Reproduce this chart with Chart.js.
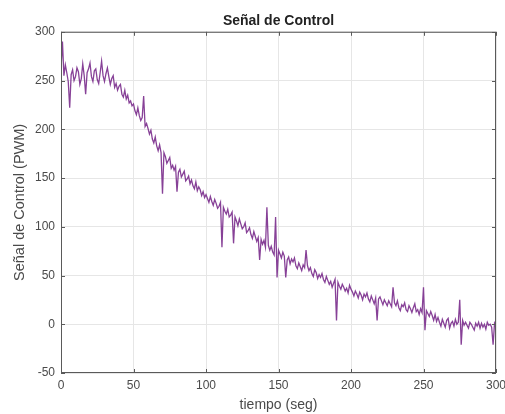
<!DOCTYPE html>
<html>
<head>
<meta charset="utf-8">
<script src="https://cdn.jsdelivr.net/npm/chart.js@4.4.1/dist/chart.umd.min.js"></script>
<style>
  html, body { margin: 0; padding: 0; background: #fff; }
</style>
</head>
<body>
<canvas id="chart-senal" width="505" height="414"></canvas>
<script>
// muestreo de la señal, un valor por segundo (0 .. 300 seg)
const paso = 1;
const senal = [
  262, 290, 255, 266, 258, 249, 222, 256, 261, 250,
  254, 263, 259, 246, 252, 267, 255, 236, 258, 262,
  268, 254, 249, 260, 262, 251, 247, 258, 270, 255,
  249, 257, 263, 254, 246, 252, 255, 243, 247, 240,
  244, 246, 236, 233, 240, 231, 235, 227, 229, 224,
  226, 219, 215, 222, 214, 209, 212, 234, 203, 206,
  201, 195, 199, 190, 186, 192, 183, 178, 184, 176,
  134, 176, 172, 165, 168, 171, 160, 163, 158, 162,
  136, 156, 159, 151, 154, 157, 147, 149, 152, 144,
  148, 142, 139, 146, 137, 141, 138, 132, 136, 130,
  133, 129, 125, 131, 126, 122, 128, 124, 119, 121,
  125, 79, 120, 116, 113, 118, 110, 112, 115, 83,
  110, 106, 101, 108, 103, 98, 100, 104, 94, 96,
  99, 92, 88, 95, 90, 85, 89, 66, 87, 82,
  86, 79, 120, 81, 76, 80, 74, 71, 110, 48,
  76, 72, 68, 74, 70, 48, 66, 69, 62, 67,
  64, 68, 60, 57, 63, 59, 55, 61, 58, 76,
  60, 55, 58, 52, 49, 56, 53, 47, 51, 48,
  52, 46, 43, 49, 45, 41, 44, 38, 42, 46,
  4, 43, 39, 36, 41, 38, 34, 37, 32, 40,
  36, 33, 29, 34, 31, 27, 33, 30, 25, 31,
  28, 32, 26, 23, 29, 25, 21, 27, 4, 26,
  28, 24, 20, 25, 22, 19, 24, 21, 18, 38,
  22, 19, 24, 17, 14, 20, 18, 22, 15, 13,
  19, 16, 12, 17, 21, 13, 15, 10, 16, 12,
  38, -6, 14, 11, 8, 13, 9, 4, 10, 3,
  7, 2, -2, 5, 1, -3, 4, 6, -4, 1,
  3, -2, 5, 0, 2, 25, -21, 4, -1, 2,
  -1, -4, 2, 0, -3, -6, 1, -2, 2, -4,
  1, -3, 0, -5, 2, -1, 0, -3, -21, 1,
  -2
];
const xTicks = [0, 50, 100, 150, 200, 250, 300];
const yTicks = [-50, 0, 50, 100, 150, 200, 250, 300];

const puntos = senal.map((v, i) => ({ x: i * paso, y: v }));

const fuente = "'Liberation Sans', Arial, Helvetica, sans-serif";
const gris = "#4a4a4a";

// caja completa y marcas hacia adentro, estilo matlab
const marcoPlugin = {
  id: "marco",
  afterLayout(chart) {
    // el titulo va centrado sobre el area del grafico, no sobre el lienzo
    if (chart.titleBlock) {
      chart.titleBlock.left = chart.chartArea.left;
      chart.titleBlock.right = chart.chartArea.right;
    }
  },
  afterDatasetsDraw(chart) {
    const { ctx, chartArea: a, scales } = chart;
    ctx.save();
    ctx.strokeStyle = "#5a5a5a";
    ctx.lineWidth = 1;
    ctx.strokeRect(a.left + 0.5, a.top + 0.5, a.right - a.left - 1, a.bottom - a.top - 1);
    ctx.beginPath();
    xTicks.forEach((v) => {
      const px = Math.round(scales.x.getPixelForValue(v)) + 0.5;
      ctx.moveTo(px, a.bottom); ctx.lineTo(px, a.bottom - 4);
      ctx.moveTo(px, a.top); ctx.lineTo(px, a.top + 4);
    });
    yTicks.forEach((v) => {
      const py = Math.round(scales.y.getPixelForValue(v)) + 0.5;
      ctx.moveTo(a.left, py); ctx.lineTo(a.left + 4, py);
      ctx.moveTo(a.right, py); ctx.lineTo(a.right - 4, py);
    });
    ctx.stroke();
    ctx.restore();
  }
};

new Chart(document.getElementById("chart-senal"), {
  type: "line",
  data: {
    datasets: [
      {
        data: puntos,
        borderColor: "rgba(122, 44, 140, 0.9)",
        borderWidth: 1.3,
        pointRadius: 0,
        fill: false,
        tension: 0,
      },
    ],
  },
  options: {
    responsive: false,
    animation: false,
    devicePixelRatio: 1,
    layout: { padding: { left: 0, right: 9, top: 0, bottom: 0 } },
    plugins: {
      legend: { display: false },
      tooltip: { enabled: false },
      title: {
        display: true,
        text: "Señal de Control",
        color: "#222",
        font: { family: fuente, size: 14, weight: "bold" },
        padding: { top: 13, bottom: 2 },
      },
    },
    scales: {
      x: {
        type: "linear",
        min: 0,
        max: 300,
        afterBuildTicks: (axis) => { axis.ticks = xTicks.map((v) => ({ value: v })); },
        afterFit: (axis) => {
          axis.height = 41;
          axis.paddingLeft = 0;
          axis.paddingRight = 0;
        },
        grid: { color: "#e6e6e6", drawTicks: false },
        border: { display: false },
        ticks: { color: gris, padding: 5, maxRotation: 0, font: { family: fuente, size: 12 } },
        title: {
          display: true,
          text: "tiempo (seg)",
          color: gris,
          font: { family: fuente, size: 14 },
          padding: { top: 0, bottom: 0 },
        },
      },
      y: {
        min: -50,
        max: 300,
        afterBuildTicks: (axis) => { axis.ticks = yTicks.map((v) => ({ value: v })); },
        afterFit: (axis) => {
          axis.width = 61;
          axis.paddingTop = 0;
          axis.paddingBottom = 0;
        },
        grid: { color: "#e6e6e6", drawTicks: false },
        border: { display: false },
        ticks: { color: gris, padding: 6, font: { family: fuente, size: 12 } },
        title: {
          display: true,
          text: "Señal de Control (PWM)",
          color: gris,
          font: { family: fuente, size: 14.5 },
          padding: { top: 11, bottom: 0 },
        },
      },
    },
  },
  plugins: [marcoPlugin],
});
</script>
</body>
</html>
